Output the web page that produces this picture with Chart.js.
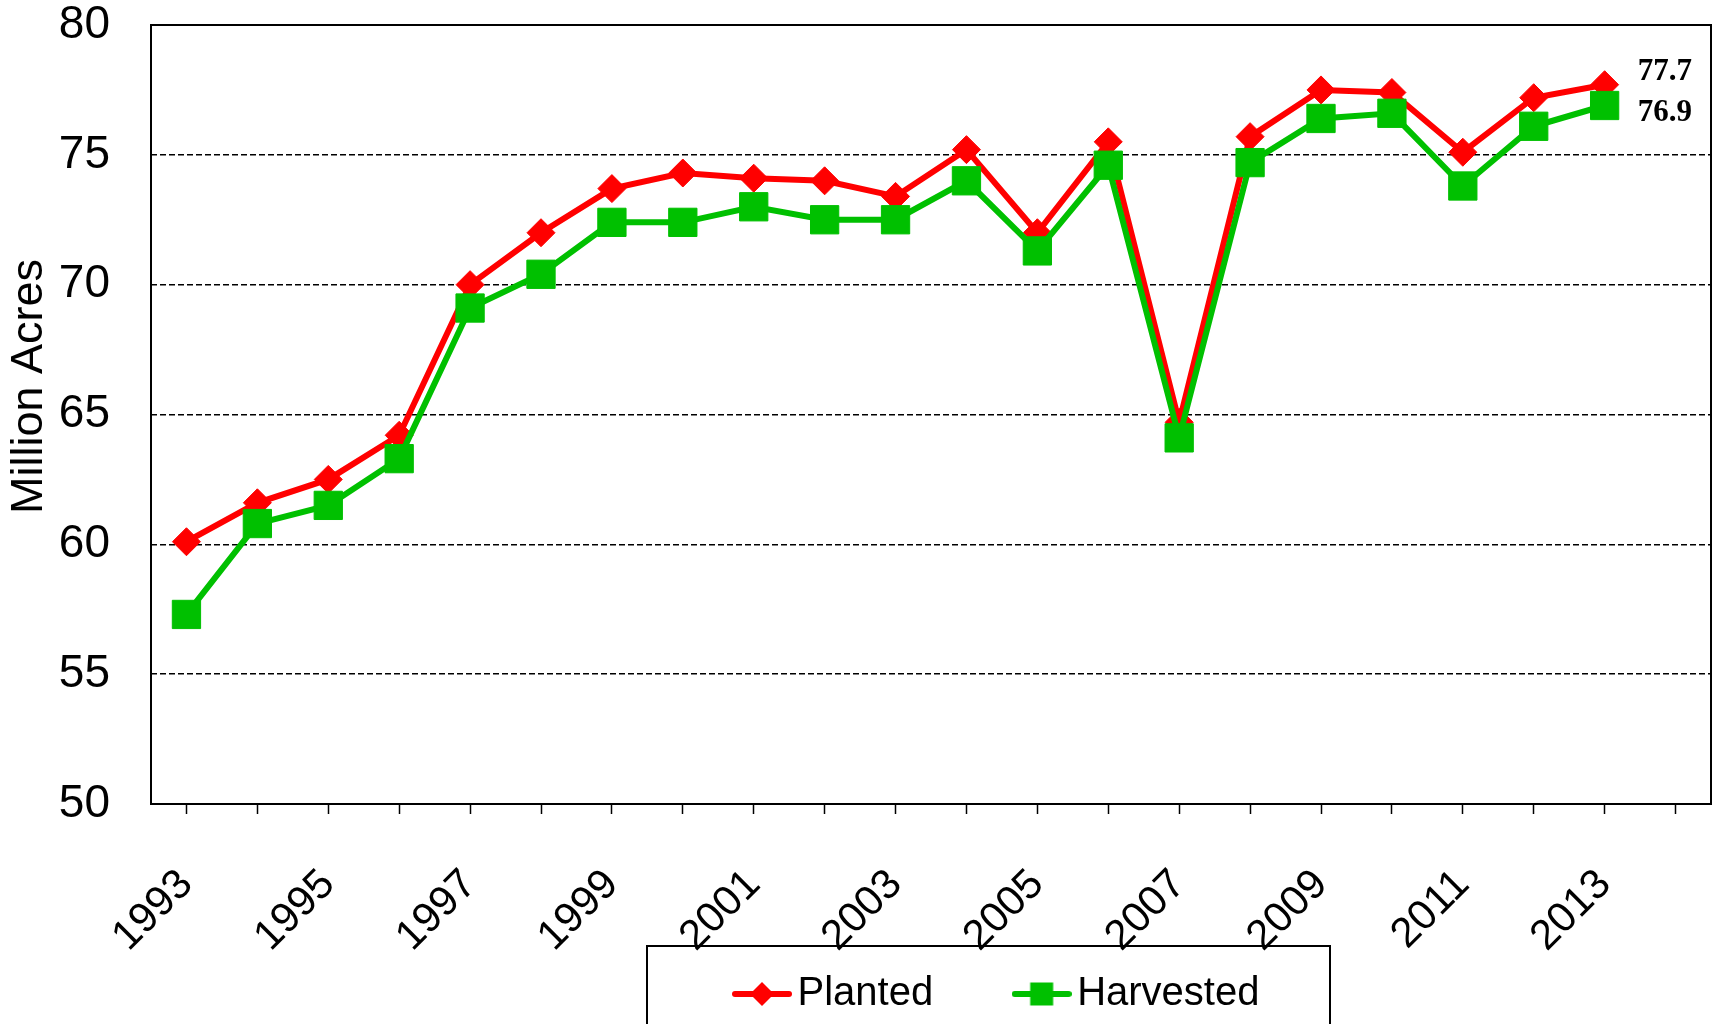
<!DOCTYPE html>
<html>
<head>
<meta charset="utf-8">
<title>Planted and Harvested Acres</title>
<script src="https://cdn.jsdelivr.net/npm/chart.js@4.4.1/dist/chart.umd.min.js"></script>
<style>
  html, body { margin: 0; padding: 0; background: #fff; overflow: hidden; }
  #wrap { width: 1715px; height: 1024px; }
</style>
</head>
<body>
<div id="wrap"><canvas id="acres-chart" width="1715" height="1024"></canvas></div>
<script>
// chart data
const years = [
  "1993", "1994", "1995", "1996", "1997", "1998", "1999", "2000", "2001", "2002", "2003",
  "2004", "2005", "2006", "2007", "2008", "2009", "2010", "2011", "2012", "2013", "2014",
];
const planted = [
  60.1, 61.6, 62.5, 64.2, 70.0, 72.0, 73.7, 74.3, 74.1, 74.0, 73.4,
  75.2, 72.0, 75.5, 64.7, 75.7, 77.5, 77.4, 75.1, 77.2, 77.7,
];
const harvested = [
  57.3, 60.8, 61.5, 63.3, 69.1, 70.4, 72.4, 72.4, 73.0, 72.5, 72.5,
  74.0, 71.3, 74.6, 64.1, 74.7, 76.4, 76.6, 73.8, 76.1, 76.9,
];
const yTicks = [50, 55, 60, 65, 70, 75, 80];

const RED = "#ff0000";
const GREEN = "#00c000";
const SANS = "'Liberation Sans', Arial, sans-serif";

// legend icons: line with marker, like the spreadsheet legend
const makeLegendIcon = (color, shape) => {
  const c = document.createElement("canvas");
  c.width = 60;
  c.height = 28;
  const g = c.getContext("2d");
  g.strokeStyle = color;
  g.fillStyle = color;
  g.lineWidth = 6;
  g.lineCap = "round";
  g.beginPath();
  g.moveTo(3, 14);
  g.lineTo(57, 14);
  g.stroke();
  g.beginPath();
  if (shape === "diamond") {
    g.moveTo(30, 2);
    g.lineTo(42, 14);
    g.lineTo(30, 26);
    g.lineTo(18, 14);
    g.closePath();
  } else {
    g.rect(18.5, 2.5, 23, 23);
  }
  g.fill();
  return c;
};
const legendIcons = [makeLegendIcon(RED, "diamond"), makeLegendIcon(GREEN, "square")];

// plot frame, end labels, legend frame
const decorPlugin = {
  id: "decor",
  afterLayout(chart) {
    // legend sits right of centre in the original
    const lg = chart.legend;
    if (lg) {
      const shift = 653.5 - lg.left;
      lg.left += shift;
      lg.right += shift;
    }
    // let rotated year labels run down past the legend's top
    chart.scales.x.bottom = chart.height;
    // axis title sits a bit above the middle of the axis
    chart.scales.y.top -= 56;
  },
  beforeDatasetsDraw(chart) {
    const { ctx, chartArea: a } = chart;
    ctx.save();
    ctx.strokeStyle = "#000";
    ctx.lineWidth = 2;
    ctx.strokeRect(a.left, a.top, a.right - a.left, a.bottom - a.top);
    ctx.restore();
  },
  afterDatasetsDraw(chart) {
    const { ctx } = chart;
    const xs = chart.scales.x;
    const ys = chart.scales.y;
    const last = planted.length - 1;
    const x = xs.getPixelForValue(last) + 33;
    ctx.save();
    ctx.fillStyle = "#000";
    ctx.font = "bold 31px 'Liberation Serif', 'Times New Roman', serif";
    ctx.textAlign = "left";
    ctx.textBaseline = "middle";
    ctx.fillText(planted[last].toFixed(1), x, ys.getPixelForValue(planted[last]) - 13);
    ctx.fillText(harvested[last].toFixed(1), x, ys.getPixelForValue(harvested[last]) + 7);
    ctx.restore();
  },
  afterDraw(chart) {
    const { ctx } = chart;
    ctx.save();
    ctx.strokeStyle = "#000";
    ctx.lineWidth = 2;
    ctx.strokeRect(647, 946, 683, 120);
    ctx.restore();
  },
};

const setupAcresChart = () => {
  try {
    const data = {
      labels: years,
      datasets: [
        {
          label: "Planted",
          data: planted,
          borderColor: RED,
          backgroundColor: RED,
          borderWidth: 6,
          pointStyle: "rectRot",
          pointRadius: 14,
          pointBorderWidth: 1,
          pointBackgroundColor: RED,
          pointBorderColor: RED,
          tension: 0,
          fill: false,
          order: 2,
        },
        {
          label: "Harvested",
          data: harvested,
          borderColor: GREEN,
          backgroundColor: GREEN,
          borderWidth: 6,
          pointStyle: "rect",
          pointRadius: 20,
          pointBorderWidth: 1,
          pointBackgroundColor: GREEN,
          pointBorderColor: GREEN,
          tension: 0,
          fill: false,
          order: 1,
        },
      ],
    };

    const config = {
      type: "line",
      data,
      plugins: [decorPlugin],
      options: {
        responsive: false,
        animation: false,
        devicePixelRatio: 1,
        clip: false,
        layout: {
          autoPadding: false,
          padding: { top: 25, right: 4, left: 0, bottom: 0 },
        },
        plugins: {
          tooltip: { enabled: false },
          legend: {
            display: true,
            position: "bottom",
            align: "start",
            labels: {
              color: "#000",
              font: { family: SANS, size: 40 },
              usePointStyle: true,
              pointStyleWidth: 31,
              padding: 93,
              sort: (a, b) => a.datasetIndex - b.datasetIndex,
              generateLabels: (chart) => {
                const items = Chart.defaults.plugins.legend.labels.generateLabels(chart);
                return items.map((item) => ({ ...item, pointStyle: legendIcons[item.datasetIndex] }));
              },
            },
          },
        },
        scales: {
          x: {
            type: "category",
            offset: true,
            afterFit: (s) => {
              s.height = 77;
              s.paddingLeft = 0;
              s.paddingRight = 0;
            },
            grid: {
              offset: false,
              drawOnChartArea: false,
              drawTicks: true,
              tickLength: 10,
              tickColor: "#000",
              tickWidth: 1.5,
              color: "#000",
            },
            border: { display: true, color: "#000", width: 2 },
            ticks: {
              autoSkip: false,
              maxRotation: 45,
              minRotation: 45,
              padding: 46,
              color: "#000",
              font: { family: SANS, size: 42 },
              callback: function (value, index) {
                return index % 2 === 0 ? this.getLabelForValue(value) : "";
              },
            },
          },
          y: {
            min: yTicks[0],
            max: yTicks[yTicks.length - 1],
            afterFit: (s) => {
              s.width = 151;
              s.paddingTop = 0;
              s.paddingBottom = 0;
            },
            afterBuildTicks: (s) => {
              s.ticks = yTicks.map((v) => ({ value: v }));
            },
            grid: {
              drawTicks: false,
              color: "#000",
              lineWidth: 1.5,
            },
            border: { display: false, color: "#000", width: 2, dash: [6, 3] },
            ticks: {
              padding: 41,
              color: "#000",
              font: { family: SANS, size: 46, lineHeight: 1 },
            },
            title: {
              display: true,
              text: "Million Acres",
              color: "#000",
              font: { family: SANS, size: 45, lineHeight: 1.2 },
              padding: { top: 3, bottom: 0 },
            },
          },
        },
      },
    };

    const acresChart = new Chart(document.getElementById("acres-chart"), config);
  } catch (e) {
    console.error(e);
  }
};

setupAcresChart();
</script>
</body>
</html>
